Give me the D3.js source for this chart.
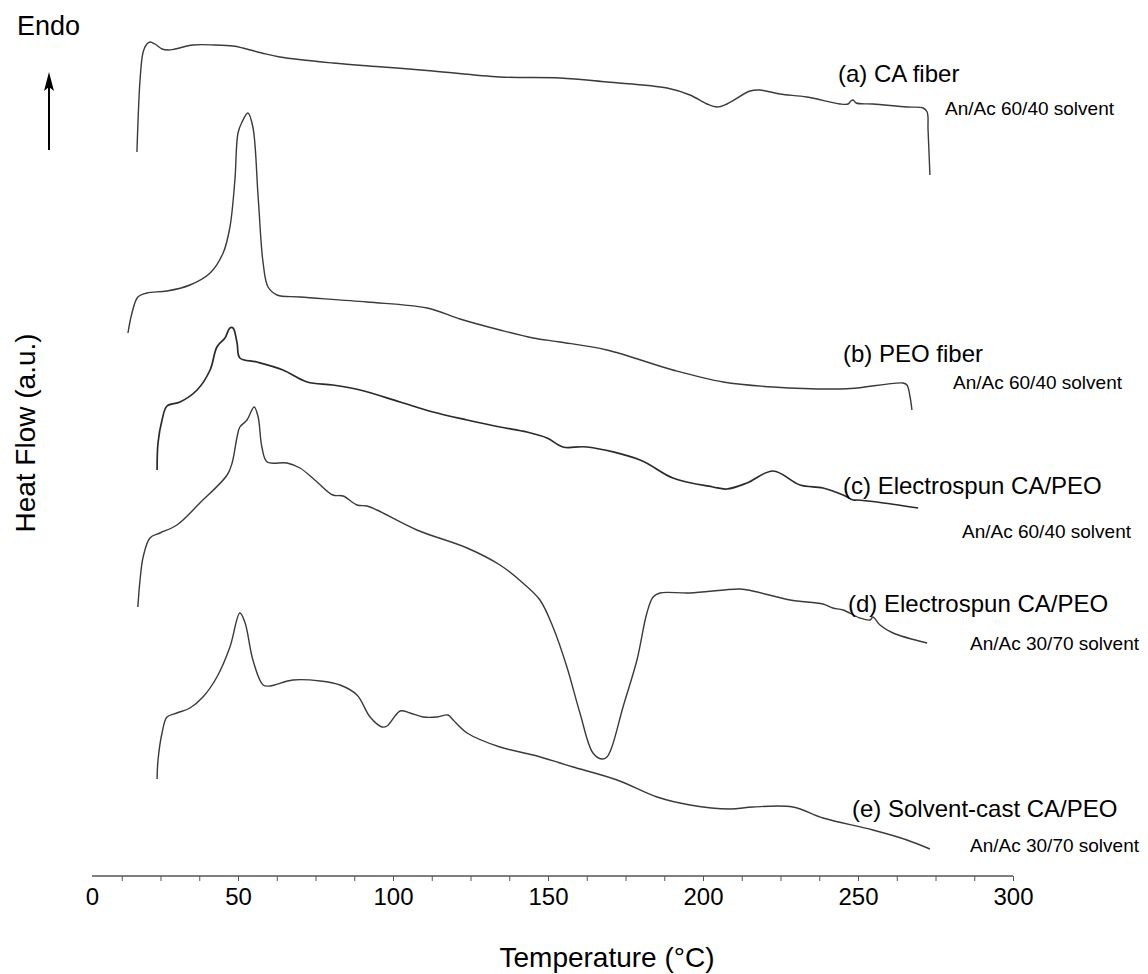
<!DOCTYPE html>
<html>
<head>
<meta charset="utf-8">
<script src="https://cdn.jsdelivr.net/npm/d3@7"></script>
<style>
  body { margin: 0; background: #fff; }
  svg { display: block; font-family: "Liberation Sans", Arial, sans-serif; }
</style>
</head>
<body>
<script>
// DSC traces, temperature in °C and heat flow in arbitrary units
var tempA = [17.4, 17.7, 18.4, 19.4, 20.6, 21.6, 23.2, 25.5, 27.4, 29.7, 35.5, 42.6, 48.4, 51.6, 57.7, 63.5, 80.6, 96.8, 112.9, 134.5, 153.9, 169.0, 188.4, 195.8, 201.3, 204.5, 207.7, 215.2, 218.4, 224.8, 233.5, 244.2, 246.8, 247.7, 248.4, 249.4, 254.8, 265.8, 271.0, 272.3, 272.6, 273.2];
var flowA = [72.5, 75.2, 79.7, 82.5, 83.3, 83.5, 83.3, 82.8, 82.7, 82.8, 83.2, 83.2, 83.1, 82.9, 82.4, 82.0, 81.4, 81.0, 80.6, 80.0, 79.9, 79.5, 78.9, 78.2, 77.3, 77.0, 77.3, 78.6, 78.7, 78.3, 78.0, 77.3, 77.3, 77.6, 77.7, 77.4, 77.3, 77.0, 76.9, 76.5, 74.7, 70.2];

var tempB = [14.5, 15.8, 17.7, 20.6, 27.1, 34.5, 41.0, 45.2, 47.4, 49.0, 50.0, 51.3, 53.2, 54.8, 56.5, 58.1, 59.7, 62.6, 70.0, 91.6, 111.0, 121.6, 134.5, 145.2, 153.9, 169.0, 190.3, 206.5, 222.6, 244.2, 249.7, 264.5, 265.8, 266.8, 267.4];
var flowB = [54.4, 56.4, 58.0, 58.4, 58.6, 59.2, 60.4, 62.4, 65.0, 69.7, 74.4, 75.5, 76.4, 75.0, 68.0, 61.4, 59.0, 58.2, 58.0, 57.5, 56.9, 55.8, 54.7, 53.9, 53.5, 52.7, 50.7, 49.5, 49.0, 48.8, 48.9, 49.4, 49.2, 48.0, 46.7];

var tempC = [23.9, 24.2, 25.5, 27.1, 31.3, 36.8, 41.0, 43.2, 45.8, 47.4, 48.4, 49.7, 50.6, 56.1, 64.5, 72.3, 80.6, 89.4, 102.3, 112.9, 123.9, 134.5, 143.2, 149.7, 154.8, 162.6, 179.7, 190.3, 203.2, 207.7, 214.2, 222.6, 231.3, 238.7, 245.2, 248.4, 249.7, 256.1, 269.4];
var flowC = [40.7, 43.4, 45.7, 47.1, 47.5, 48.7, 50.7, 53.0, 53.9, 54.9, 54.9, 53.4, 51.9, 51.5, 50.7, 49.5, 49.2, 48.7, 47.5, 46.5, 45.7, 45.0, 44.5, 43.9, 43.0, 43.0, 41.7, 39.9, 39.0, 38.8, 39.4, 40.6, 39.2, 38.9, 38.2, 37.7, 37.7, 37.5, 36.9];

var tempD = [17.7, 18.4, 19.4, 21.6, 24.8, 30.3, 37.7, 46.5, 48.1, 49.7, 50.6, 52.9, 55.2, 56.5, 57.7, 59.4, 65.8, 70.0, 75.5, 80.6, 83.9, 88.4, 91.6, 94.8, 107.7, 123.9, 134.5, 141.9, 147.4, 151.6, 156.1, 160.3, 164.5, 167.4, 169.0, 170.6, 174.2, 178.7, 181.9, 183.9, 186.1, 195.8, 211.9, 216.1, 228.1, 238.7, 241.9, 245.2, 250.6, 253.9, 254.8, 257.1, 261.3, 272.3];
var flowD = [27.0, 29.7, 32.0, 33.9, 34.4, 35.2, 37.4, 40.2, 41.4, 44.0, 45.0, 45.7, 47.0, 46.0, 43.0, 41.5, 41.4, 40.9, 39.5, 38.2, 38.1, 37.2, 37.1, 36.7, 34.7, 32.9, 31.2, 29.4, 27.7, 25.0, 21.0, 16.4, 12.4, 11.8, 12.0, 13.0, 17.0, 21.7, 26.4, 28.0, 28.4, 28.4, 28.8, 28.6, 27.7, 27.3, 26.9, 26.7, 25.9, 25.7, 26.0, 25.2, 24.4, 23.4];

var tempE = [23.9, 24.2, 25.5, 27.1, 30.3, 34.5, 38.7, 43.2, 47.4, 50.6, 52.3, 54.8, 58.1, 60.3, 67.7, 76.5, 82.9, 88.4, 92.6, 96.5, 98.1, 102.3, 105.5, 109.7, 114.2, 117.7, 119.4, 123.9, 134.5, 145.2, 153.9, 158.1, 172.3, 185.2, 195.8, 208.7, 216.1, 229.0, 238.7, 254.8, 265.8, 273.2];
var flowE = [9.8, 11.7, 14.4, 16.0, 16.4, 16.9, 18.0, 20.0, 23.0, 26.4, 25.4, 21.7, 19.2, 19.1, 19.7, 19.6, 19.2, 18.2, 16.0, 15.0, 15.1, 16.6, 16.4, 16.0, 16.0, 16.2, 15.7, 14.4, 13.0, 12.2, 11.4, 11.0, 9.7, 8.0, 7.2, 6.8, 7.0, 7.0, 5.9, 4.7, 3.7, 2.8];

var sampleNames = ['(a) CA fiber', '(b) PEO fiber', '(c) Electrospun CA/PEO', '(d) Electrospun CA/PEO', '(e) Solvent-cast CA/PEO'];
var solventNames = ['An/Ac 60/40 solvent', 'An/Ac 60/40 solvent', 'An/Ac 60/40 solvent', 'An/Ac 30/70 solvent', 'An/Ac 30/70 solvent'];
var tickValues = [0, 12.5, 25, 37.5, 50, 62.5, 75, 87.5, 100, 112.5, 125, 137.5, 150, 162.5, 175, 187.5, 200, 212.5, 225, 237.5, 250, 262.5, 275, 287.5, 300];

var svgWidth = 1148;
var svgHeight = 974;

var svg = d3.select('body')
    .append('svg')
    .attr('width', svgWidth)
    .attr('height', svgHeight);

var xScale = d3.scaleLinear().domain([0, 300]).range([83, 1013]);
var yScale = d3.scaleLinear().domain([0, 85]).range([877, 27]);
var axisY = 876;

var series = [
    [tempA, flowA],
    [tempB, flowB],
    [tempC, flowC],
    [tempD, flowD],
    [tempE, flowE]
];

var line = d3.line()
    .x(function (d) { return xScale(d[0]); })
    .y(function (d) { return yScale(d[1]); })
    .curve(d3.curveCatmullRom.alpha(0.5));

series.forEach(function (s, k) {
    var pts = s[0].map(function (t, i) { return [t, s[1][i]]; });
    svg.append('path')
        .datum(pts)
        .attr('fill', 'none')
        .attr('stroke', k === 2 ? '#2a2a2a' : '#3a3a3a')
        .attr('stroke-width', k === 2 ? 1.7 : 1.4)
        .attr('stroke-linejoin', 'round')
        .attr('d', line);
});

// x axis
var xAxis = svg.append('g')
    .attr('transform', 'translate(0,' + axisY + ')')
    .call(d3.axisBottom(xScale)
        .tickValues(tickValues)
        .tickSize(5)
        .tickPadding(7)
        .tickFormat(function (d) { return d % 50 === 0 ? d : ''; }));

xAxis.select('.domain').remove();
xAxis.selectAll('.tick line').attr('stroke', '#555');
xAxis.selectAll('.tick')
    .filter(function (d) { return d === 0; })
    .each(function () {
        d3.select(this).select('line').remove();
        d3.select(this).select('text').attr('x', 9);
    });
xAxis.selectAll('.tick text')
    .attr('font-family', '"Liberation Sans", Arial, sans-serif')
    .attr('font-size', '24px')
    .attr('fill', '#000');

xAxis.append('line')
    .attr('x1', 92)
    .attr('x2', xScale(300))
    .attr('stroke', '#555')
    .attr('stroke-width', 1.5);

svg.append('text')
    .attr('x', 607)
    .attr('y', 967)
    .attr('text-anchor', 'middle')
    .attr('font-size', '28px')
    .text('Temperature (°C)');

svg.append('text')
    .attr('transform', 'translate(35,433) rotate(-90)')
    .attr('text-anchor', 'middle')
    .attr('font-size', '28px')
    .text('Heat Flow (a.u.)');

// Endo marker
svg.append('text')
    .attr('x', 17)
    .attr('y', 35)
    .attr('font-size', '27px')
    .text('Endo');

svg.append('line')
    .attr('x1', 49).attr('y1', 150)
    .attr('x2', 49).attr('y2', 86)
    .attr('stroke', '#000')
    .attr('stroke-width', 2);

svg.append('path')
    .attr('d', 'M49,72 L44,91 L49,87 L54,91 Z')
    .attr('fill', '#000');

// curve labels
var labelX = [838, 843, 843, 848, 852];
var labelY = [82, 362, 494, 612, 817];
var solvX = [945, 953, 962, 970, 970];
var solvY = [115, 389, 538, 650, 852];

svg.selectAll('.sample')
    .data(sampleNames)
    .enter()
    .append('text')
    .attr('class', 'sample')
    .attr('x', function (d, i) { return labelX[i]; })
    .attr('y', function (d, i) { return labelY[i]; })
    .attr('font-size', '24px')
    .text(function (d) { return d; });

svg.selectAll('.solvent')
    .data(solventNames)
    .enter()
    .append('text')
    .attr('class', 'solvent')
    .attr('x', function (d, i) { return solvX[i]; })
    .attr('y', function (d, i) { return solvY[i]; })
    .attr('font-size', '19px')
    .text(function (d) { return d; });
</script>
</body>
</html>
